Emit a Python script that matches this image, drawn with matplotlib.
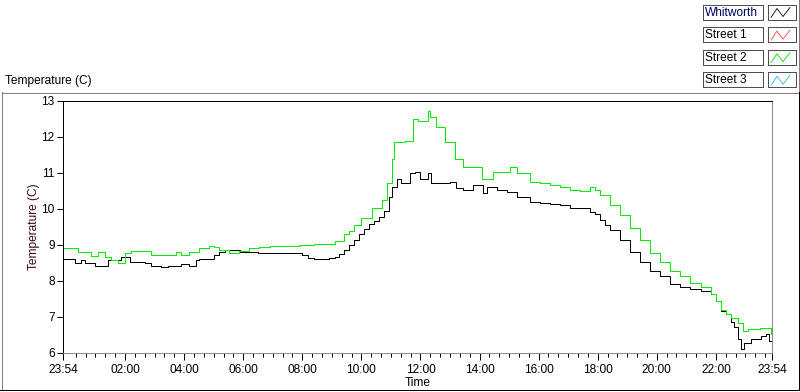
import matplotlib
matplotlib.use("Agg")
import matplotlib.pyplot as plt
from matplotlib.patches import Rectangle

plt.rcParams["font.family"] = ["Liberation Sans", "DejaVu Sans"]

# hours after 23:54 of the previous day
WHIT_T = [0.00, 0.34, 0.41, 0.61, 0.75, 1.09, 1.43, 1.53, 1.97, 2.14, 2.28, 2.65,
          2.79, 2.99, 3.33, 3.57, 3.81, 4.01, 4.25, 4.49, 4.59, 4.93, 5.10, 5.27,
          5.50, 5.70, 6.00, 6.60, 7.30, 7.90, 8.10, 8.30, 8.50, 9.00, 9.20, 9.35,
          9.52, 9.69, 9.86, 10.03, 10.20, 10.37, 10.54, 10.71, 10.88, 11.05, 11.15,
          11.29, 11.45, 11.73, 11.90, 12.07, 12.34, 12.47, 12.75, 13.09, 13.32,
          13.53, 13.87, 14.21, 14.34, 14.68, 15.02, 15.36, 15.81, 16.15, 16.49,
          16.83, 17.17, 17.51, 17.85, 18.01, 18.18, 18.35, 18.52, 18.86, 19.20,
          19.54, 19.88, 20.22, 20.56, 20.90, 21.24, 21.58, 21.92, 22.09, 22.26,
          22.43, 22.60, 22.70, 22.84, 22.94, 23.04, 23.28, 23.62, 23.79, 23.89, 24.00]
WHIT_V = [8.60, 8.60, 8.49, 8.57, 8.49, 8.41, 8.41, 8.57, 8.66, 8.66, 8.52, 8.52,
          8.49, 8.41, 8.38, 8.43, 8.41, 8.46, 8.43, 8.57, 8.60, 8.62, 8.72, 8.80,
          8.87, 8.85, 8.80, 8.77, 8.77, 8.77, 8.71, 8.63, 8.60, 8.63, 8.68, 8.75,
          8.85, 9.00, 9.15, 9.30, 9.45, 9.58, 9.68, 9.78, 9.95, 10.34, 10.60,
          10.82, 10.73, 11.01, 11.04, 10.82, 11.01, 10.73, 10.73, 10.76, 10.59,
          10.54, 10.68, 10.45, 10.62, 10.54, 10.48, 10.34, 10.20, 10.17, 10.14,
          10.11, 10.03, 10.03, 9.92, 9.85, 9.69, 9.55, 9.41, 9.13, 8.80,
          8.52, 8.29, 8.15, 7.93, 7.82, 7.79, 7.73, 7.65, 7.45, 7.17,
          7.09, 6.86, 6.72, 6.39, 6.11, 6.28, 6.39, 6.47, 6.53, 6.33, 6.19]

ST2_T = [0.00, 0.34, 0.51, 0.95, 1.19, 1.43, 1.63, 1.87, 2.11, 2.31, 2.89, 2.99,
         3.47, 3.81, 4.01, 4.25, 4.59, 4.93, 5.10, 5.27, 5.61, 5.95, 6.29, 6.63,
         7.00, 7.50, 8.00, 8.50, 8.90, 9.20, 9.52, 9.69, 9.86, 10.09, 10.46, 10.81,
         10.98, 11.12, 11.22, 11.56, 11.85, 12.00, 12.34, 12.41, 12.64, 12.92,
         13.26, 13.53, 13.77, 14.17, 14.38, 14.55, 14.89, 15.13, 15.37, 15.81,
         16.15, 16.49, 16.83, 17.17, 17.51, 17.85, 18.01, 18.18, 18.52, 18.86,
         19.20, 19.54, 19.88, 20.22, 20.56, 20.90, 21.24, 21.58, 21.92, 22.09,
         22.26, 22.43, 22.60, 22.84, 23.01, 23.18, 23.60, 23.95, 24.00]
ST2_V = [8.91, 8.91, 8.80, 8.69, 8.80, 8.66, 8.57, 8.49, 8.77, 8.82, 8.82, 8.71,
         8.71, 8.80, 8.71, 8.80, 8.91, 8.97, 8.94, 8.85, 8.77, 8.82, 8.91, 8.94,
         8.97, 8.97, 9.00, 9.02, 9.02, 9.10, 9.30, 9.40, 9.55, 9.75, 10.03, 10.25,
         10.73, 11.38, 11.85, 11.88, 12.50, 12.45, 12.72, 12.55, 12.27, 11.85,
         11.38, 11.18, 11.18, 10.82, 10.82, 11.04, 11.04, 11.18, 11.00, 10.76,
         10.73, 10.68, 10.60, 10.54, 10.50, 10.62, 10.54, 10.39, 10.11, 9.83,
         9.47, 9.13, 8.77, 8.52, 8.29, 8.13, 7.95, 7.82, 7.65, 7.45,
         7.20, 7.09, 6.98, 6.84, 6.61, 6.67, 6.70, 6.53, 6.53]

LEGEND_NAMES = ["Whitworth", "Street 1", "Street 2", "Street 3"]
LEGEND_COLORS = ["#000000", "#ff4040", "#00e000", "#30b0ff"]

MAJOR_TICKS = [0.0, 2.1, 4.1, 6.1, 8.1, 10.1, 12.1, 14.1, 16.1, 18.1, 20.1, 22.1, 24.0]
MAJOR_LABELS = ["23:54", "02:00", "04:00", "06:00", "08:00", "10:00", "12:00",
                "14:00", "16:00", "18:00", "20:00", "22:00", "23:54"]
Y_TICKS = [6, 7, 8, 9, 10, 11, 12, 13]

FS = 8.6
PX = 0.72  # one pixel line width in points

W, H = 800, 392
fig = plt.figure(figsize=(W / 100, H / 100), dpi=100)

# overlay for frame and legend, in pixel coordinates
ov = fig.add_axes([0, 0, 1, 1], zorder=0)
ov.set_xlim(0, W)
ov.set_ylim(H, 0)
ov.axis("off")
ov.plot([1.5, 1.5], [92, 389.5], color="#808080", lw=PX, antialiased=False)
ov.plot([1.5, 798.5], [92.5, 92.5], color="#808080", lw=PX, antialiased=False)
ov.plot([0, 800], [389.5, 389.5], color="black", lw=PX, antialiased=False)
ov.plot([798.5, 798.5], [0, 92], color="#808080", lw=PX, antialiased=False)
ov.plot([798.5, 798.5], [92, 390], color="black", lw=PX, antialiased=False)
ov.text(5, 81, "Temperature (C)", fontsize=FS, ha="left", va="center")

for i, (name, col) in enumerate(zip(LEGEND_NAMES, LEGEND_COLORS)):
    top = 4.5 + i * 22.6
    ov.add_patch(Rectangle((702.5, top), 60, 15, fill=False, ec="#505050",
                           lw=PX, antialiased=False))
    ov.add_patch(Rectangle((767.5, top), 28, 15, fill=False, ec="#505050",
                           lw=PX, antialiased=False))
    ov.text(705, top + 8, name, fontsize=FS, va="center", ha="left",
            color="#000060" if i == 0 else "black")
    zx = [771, 777, 783, 790]
    zy = [top + 13, top + 4, top + 12, top + 3]
    ov.plot(zx, zy, color=col, lw=0.6)

ax = fig.add_axes([63 / W, 1 - 353 / H, 709 / W, 252 / H], zorder=1)
ax.plot(WHIT_T, WHIT_V, color="black", lw=PX, drawstyle="steps-post",
        antialiased=True, snap=True)
ax.plot(ST2_T, ST2_V, color="#00ee00", lw=PX, drawstyle="steps-post",
        antialiased=True, snap=True)

ax.set_xlim(0, 24)
ax.set_ylim(6, 13)
ax.set_xticks(MAJOR_TICKS)
ax.set_xticklabels(MAJOR_LABELS)
minor = [0.1 + k / 3 for k in range(72) if (k % 6) != 0]
ax.set_xticks(minor, minor=True)
ax.set_yticks(Y_TICKS)
ax.tick_params(axis="x", which="major", length=5, width=PX, labelsize=FS, pad=3)
ax.tick_params(axis="x", which="minor", length=3, width=PX)
ax.tick_params(axis="y", length=4, width=PX, labelsize=FS, pad=2)
for side in ("left", "top"):
    ax.spines[side].set_color("black")
for side in ("right", "bottom"):
    ax.spines[side].set_color("#8a8a8a")
for sp in ax.spines.values():
    sp.set_linewidth(PX)
ax.set_xlabel("Time", fontsize=FS, labelpad=1)
ax.set_ylabel("Temperature (C)", fontsize=FS, color="#3a0a0a", labelpad=1)

fig.savefig("out.png", dpi=100)
